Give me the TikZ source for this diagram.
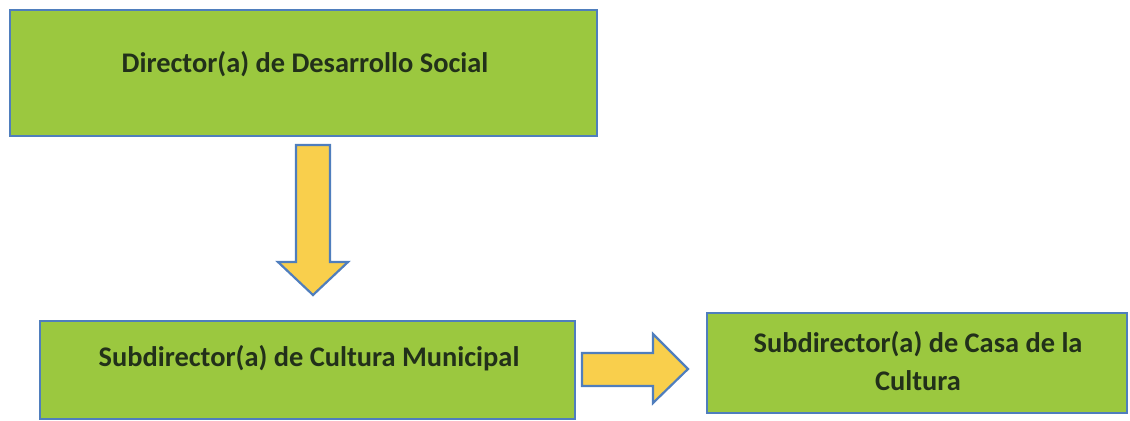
\documentclass[tikz,border=0pt]{standalone}
\usepackage{fontspec}
\setmainfont{Carlito}
\usepackage{tikz}
\usetikzlibrary{positioning,calc}
\definecolor{orggreen}{HTML}{9BC83F}
\definecolor{orgblue}{HTML}{4F7EBD}
\definecolor{orgyellow}{HTML}{F9CF4C}
\definecolor{orgtext}{HTML}{22301A}

\begin{document}
\begin{tikzpicture}[
  x=0.5pt,
  y=-0.5pt,
  font=\fontsize{14.2}{19}\selectfont\bfseries,
  box/.style={rectangle, draw=orgblue, line width=1.2pt, fill=orggreen, inner sep=0pt},
  lbl/.style={text=orgtext, align=center, inner sep=0pt},
  blockarrow/.style={draw=orgblue, line width=1.1pt, fill=orgyellow, line join=miter}
]
  \useasboundingbox (0,0) rectangle (1130,421);

  \node[box, minimum width=293.5pt, minimum height=63pt] (director) at (303.5,73) {};
  \node[lbl] (directortext) at (305,64) {Director(a) de Desarrollo Social};

  \node[box, minimum width=267.5pt, minimum height=49pt] (cultura) at (307.5,370) {};
  \node[lbl] (culturatext) at (309,358) {Subdirector(a) de Cultura Municipal};

  \node[box, minimum width=210pt, minimum height=50pt] (casa) at (917,363) {};
  \node[lbl] (casatext) at (918,361) {Subdirector(a) de Casa de la\\Cultura};

  % block arrows
  \draw[blockarrow] (296,145) -- (330,145) -- (330,262) -- (348,262) -- (313,295)
    -- (278,262) -- (296,262) -- cycle;
  \draw[blockarrow] (582,353) -- (653,353) -- (653,334) -- (688,369) -- (653,403)
    -- (653,386) -- (582,386) -- cycle;
\end{tikzpicture}
\end{document}
